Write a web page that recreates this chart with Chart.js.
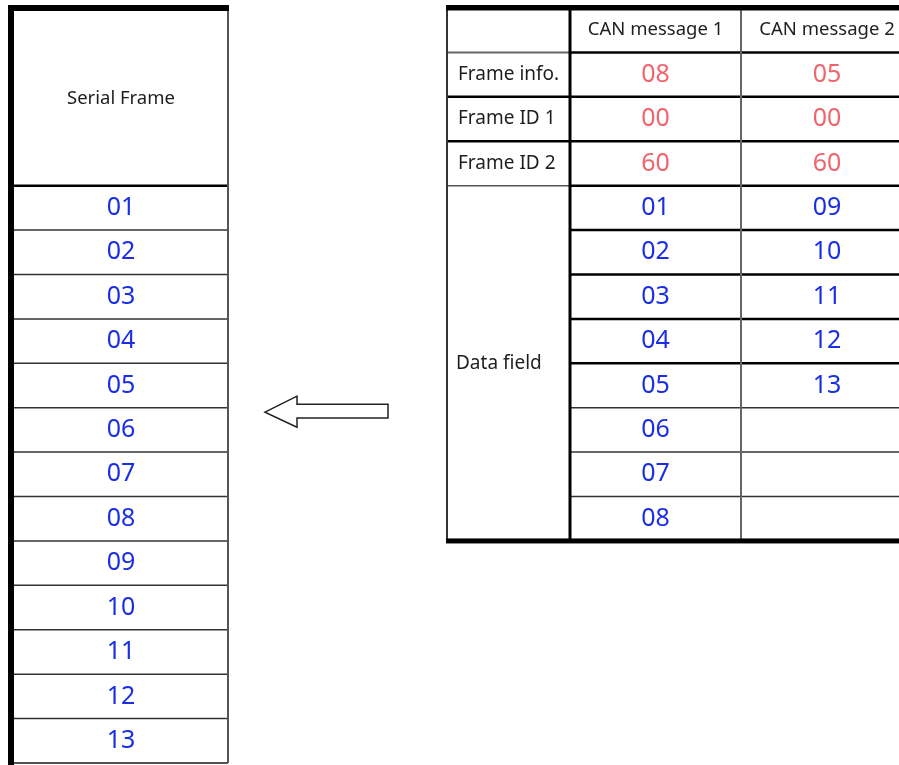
<!DOCTYPE html>
<html>
<head>
<meta charset="utf-8">
<script src="https://cdn.jsdelivr.net/npm/chart.js@4"></script>
<style>
  html, body { margin: 0; padding: 0; background: #fff; }
  #wrap { width: 899px; height: 765px; position: relative; }
</style>
</head>
<body>
<div id="wrap"><canvas id="frame-chart"></canvas></div>
<script>
// Table contents
const serialTitle = 'Serial Frame';
const serialFrame = ['01', '02', '03', '04', '05', '06', '07', '08', '09', '10', '11', '12', '13'];
const columnTitles = ['CAN message 1', 'CAN message 2'];
const rowLabels = ['Frame info.', 'Frame ID 1', 'Frame ID 2', 'Data field'];
const headerBytes1 = ['08', '00', '60'];
const headerBytes2 = ['05', '00', '60'];
const dataBytes1 = ['01', '02', '03', '04', '05', '06', '07', '08'];
const dataBytes2 = ['09', '10', '11', '12', '13'];

// Layout: x in canvas units, y in table rows (17 rows tall)
const leftCols = [8, 228];
const rightCols = [447, 570, 741, 913];
const headerRows = 4;
const arrowShape = [[265, 9.1], [297, 8.74], [297, 8.92], [388, 8.92], [388, 9.23], [297, 9.23], [297, 9.44]];

const FONT = '"Noto Sans", "Open Sans", sans-serif';
const BLUE = '#1a2ee4';
const RED = '#f0646c';
const INK = '#1e1e1e';

const tablePlugin = {
  id: 'tablePlugin',
  afterDraw(chart) {
    const ctx = chart.ctx;
    const X = v => chart.scales.x.getPixelForValue(v);
    const Y = r => chart.scales.y.getPixelForValue(r);

    function line(x1, r1, x2, r2, w, color) {
      ctx.beginPath();
      ctx.lineWidth = w;
      ctx.strokeStyle = color;
      ctx.moveTo(X(x1), Y(r1));
      ctx.lineTo(X(x2), Y(r2));
      ctx.stroke();
    }
    function text(str, x, r, size, color, align) {
      ctx.font = size + 'px ' + FONT;
      ctx.fillStyle = color;
      ctx.textAlign = align || 'center';
      ctx.textBaseline = 'middle';
      ctx.fillText(str, X(x), Y(r));
    }

    ctx.save();
    ctx.lineCap = 'butt';

    // ---- left table: serial frame ----
    const lx0 = leftCols[0], lx1 = leftCols[1];
    const lastRow = headerRows + serialFrame.length;
    for (let k = headerRows + 1; k < lastRow; k++) {
      line(lx0 + 6, k, lx1, k, 1.5, '#333');
    }
    line(lx0 + 6, headerRows, lx1, headerRows, 2.5, '#000');
    line(lx0 + 6, lastRow, lx1, lastRow, 2, '#555');
    line(lx1, 0, lx1, lastRow, 2, '#555');
    ctx.fillStyle = '#000';
    ctx.fillRect(X(lx0), Y(0) - 3, X(lx1) - X(lx0) + 1, 6);
    ctx.fillRect(X(lx0), Y(0) - 3, 6, chart.height - (Y(0) - 3));

    const lc = (lx0 + 6 + lx1) / 2;
    text(serialTitle, lc, headerRows / 2 + 0.05, 18.5, INK);
    serialFrame.forEach((v, i) => text(v, lc, headerRows + i + 0.5, 25, BLUE));

    // ---- arrow ----
    ctx.beginPath();
    arrowShape.forEach(([x, r], i) => {
      if (i === 0) ctx.moveTo(X(x), Y(r)); else ctx.lineTo(X(x), Y(r));
    });
    ctx.closePath();
    ctx.fillStyle = '#fff';
    ctx.fill();
    ctx.lineWidth = 1.5;
    ctx.strokeStyle = '#222';
    ctx.lineJoin = 'miter';
    ctx.stroke();

    // ---- right table: CAN messages ----
    const [c0, c1, c2, c3] = rightCols;
    const dataRows = dataBytes1.length;
    const endRow = headerRows + dataRows;

    // horizontal rules
    line(c0, 1, c1, 1, 2, '#666');
    line(c1, 1, c3, 1, 2.5, '#000');
    line(c0, 2, c3, 2, 2.5, '#000');
    line(c0, 3, c3, 3, 2.5, '#000');
    line(c0, 4, c1, 4, 1.5, '#555');
    line(c1, 4, c3, 4, 2.5, '#000');
    for (let k = headerRows + 1; k < endRow; k++) {
      line(c1, k, c3, k, k <= headerRows + 4 ? 2.5 : 1.5, k <= headerRows + 4 ? '#000' : '#333');
    }
    // vertical rules
    line(c0, 0, c0, endRow, 2, '#333');
    line(c1, 0, c1, endRow, 3, '#000');
    line(c2, 0, c2, endRow, 2, '#666');
    // outer top / bottom
    ctx.fillStyle = '#000';
    ctx.fillRect(X(c0) - 1, Y(0) - 3, X(c3) - X(c0) + 1, 5.5);
    ctx.fillRect(X(c0) - 1, Y(endRow) - 2.5, X(c3) - X(c0) + 1, 5);

    const m1 = (c1 + c2) / 2, m2 = (c2 + c3) / 2;
    text(columnTitles[0], m1, 0.5, 18.5, INK);
    text(columnTitles[1], m2, 0.5, 18.5, INK);
    rowLabels.slice(0, 3).forEach((v, i) => text(v, c0 + 11, i + 1.5, 19, INK, 'left'));
    text(rowLabels[3], c0 + 9, headerRows + dataRows / 2, 19, INK, 'left');
    headerBytes1.forEach((v, i) => text(v, m1, i + 1.5, 25, RED));
    headerBytes2.forEach((v, i) => text(v, m2, i + 1.5, 25, RED));
    dataBytes1.forEach((v, i) => text(v, m1, headerRows + i + 0.5, 25, BLUE));
    dataBytes2.forEach((v, i) => text(v, m2, headerRows + i + 0.5, 25, BLUE));

    ctx.restore();
  }
};

new Chart(document.getElementById('frame-chart'), {
  type: 'scatter',
  data: { datasets: [] },
  options: {
    responsive: true,
    maintainAspectRatio: false,
    animation: false,
    events: [],
    layout: { padding: { top: 8, bottom: 2, left: 0, right: 0 } },
    scales: {
      x: { type: 'linear', min: 0, max: 899, display: false },
      y: { type: 'linear', min: 0, max: 17, reverse: true, display: false }
    },
    plugins: {
      legend: { display: false },
      tooltip: { enabled: false }
    }
  },
  plugins: [tablePlugin]
});
</script>
</body>
</html>
